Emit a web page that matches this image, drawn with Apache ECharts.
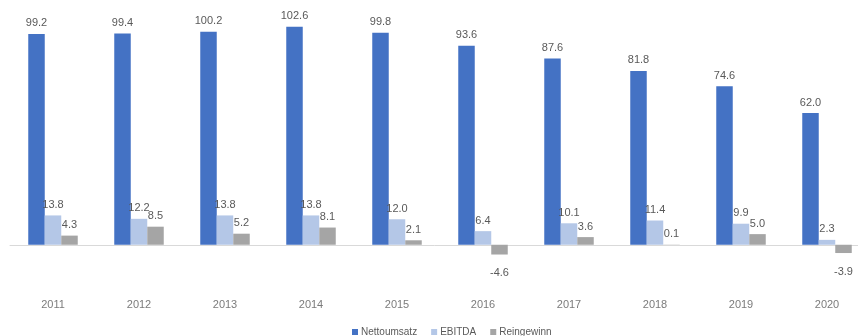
<!DOCTYPE html>
<html>
<head>
<meta charset="utf-8">
<script src="https://cdn.jsdelivr.net/npm/echarts@6/dist/echarts.min.js"></script>
<style>
  html, body { margin: 0; padding: 0; background: #fff; }
  #main { width: 858px; height: 336px; }
</style>
</head>
<body>
<div id="main"></div>
<script>
var years = ['2011', '2012', '2013', '2014', '2015', '2016', '2017', '2018', '2019', '2020'];
var nettoumsatz = [99.2, 99.4, 100.2, 102.6, 99.8, 93.6, 87.6, 81.8, 74.6, 62.0];
var ebitda = [13.8, 12.2, 13.8, 13.8, 12.0, 6.4, 10.1, 11.4, 9.9, 2.3];
var reingewinn = [4.3, 8.5, 5.2, 8.1, 2.1, -4.6, 3.6, 0.1, 5.0, -3.9];

var chart = echarts.init(document.getElementById('main'));

// negative Werte bekommen das Label unter dem Balken
function toData(arr) {
    return arr.map(function (v) {
        if (v < 0) {
            return { value: v, label: { position: 'bottom', distance: 13 } };
        }
        return v;
    });
}

var labelStyle = {
    show: true,
    position: 'top',
    distance: 5,
    color: '#595959',
    fontSize: 11,
    fontFamily: 'Liberation Sans',
    formatter: function (p) { return p.value.toFixed(1); }
};

chart.setOption({
    animation: false,
    grid: {
        left: 10,
        width: 860,
        top: 11,
        height: 255,
        outerBoundsMode: 'none'
    },
    legend: {
        left: 347,
        top: 322,
        itemWidth: 6,
        itemHeight: 6,
        itemGap: 14,
        icon: 'rect',
        textStyle: { color: '#595959', fontSize: 10, fontFamily: 'Liberation Sans', padding: [0, 0, 0, -2] },
        data: ['Nettoumsatz', 'EBITDA', 'Reingewinn']
    },
    xAxis: {
        type: 'category',
        data: years,
        axisLine: { onZero: true, lineStyle: { color: '#d9d9d9', width: 1 } },
        axisTick: { show: false },
        axisLabel: {
            show: false
        }
    },
    yAxis: {
        type: 'value',
        min: -10,
        max: 110,
        show: false,
        splitLine: { show: false }
    },
    series: [
        {
            name: 'Nettoumsatz',
            type: 'bar',
            barWidth: 16.5,
            barGap: '0%',
            itemStyle: { color: '#4472c4' },
            label: labelStyle,
            data: toData(nettoumsatz)
        },
        {
            name: 'EBITDA',
            type: 'bar',
            barWidth: 16.5,
            barGap: '0%',
            itemStyle: { color: '#b4c7e7' },
            label: labelStyle,
            data: toData(ebitda)
        },
        {
            name: 'Reingewinn',
            type: 'bar',
            barWidth: 16.5,
            barGap: '0%',
            itemStyle: { color: '#a5a5a5' },
            label: labelStyle,
            data: toData(reingewinn)
        },
        {
            // Jahreszahlen unten, unabhängig von der Nulllinie
            type: 'scatter',
            xAxisIndex: 0,
            data: years.map(function (y) { return [y, -10]; }),
            symbolSize: 0,
            silent: true,
            label: {
                show: true,
                position: 'bottom',
                distance: 33,
                color: '#595959',
                fontSize: 11,
                fontFamily: 'Liberation Sans',
                formatter: function (p) { return p.value[0]; }
            }
        }
    ]
});
</script>
</body>
</html>
